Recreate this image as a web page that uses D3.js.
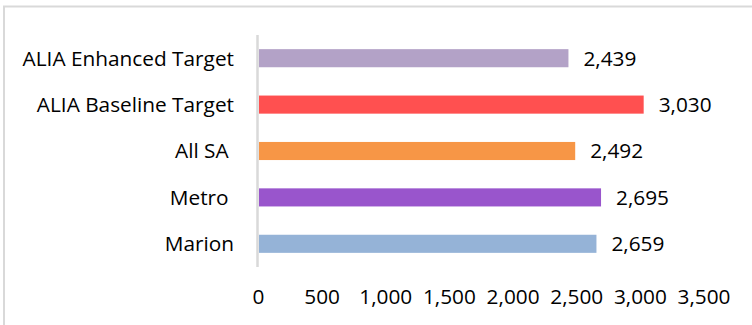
<!DOCTYPE html>
<html>
<head>
<meta charset="utf-8">
<script src="https://cdn.jsdelivr.net/npm/d3@7"></script>
<style>
  html, body { margin: 0; padding: 0; background: #fff; }
  svg text { font-family: "Open Sans", Lato, sans-serif; fill: #000; }
</style>
</head>
<body>
<svg id="chart"></svg>
<script>
// Data kategori dan nilai
const categories = ["ALIA Enhanced Target", "ALIA Baseline Target", "All SA ", "Metro ", "Marion"];
const values = [2439, 3030, 2492, 2695, 2659];
const barColors = ["#B3A2C7", "#FF5050", "#F79646", "#9955CC", "#95B3D7"];
const xTicks = [0, 500, 1000, 1500, 2000, 2500, 3000, 3500];

const svgWidth = 752;
const svgHeight = 325;
const plot = { left: 258, right: 703.5, top: 35, bottom: 267 };
const fontSize = "20.8px";

const svg = d3.select("#chart")
  .attr("width", svgWidth)
  .attr("height", svgHeight);

// Bingkai (hanya kiri dan atas terlihat)
svg.append("path")
  .attr("d", `M4,${svgHeight} V6.5 H${svgWidth}`)
  .attr("fill", "none")
  .attr("stroke", "#D9D9D9")
  .attr("stroke-width", 2);

const data = categories.map((c, i) => ({ cat: c, value: values[i], color: barColors[i] }));

// Skala
const x = d3.scaleLinear()
  .domain([0, 3500])
  .range([plot.left, plot.right]);

const y = d3.scaleBand()
  .domain(categories)
  .range([plot.top, plot.bottom])
  .paddingInner(0.61)
  .paddingOuter(0.305);

// Batang
svg.selectAll("rect.bar")
  .data(data)
  .enter().append("rect")
  .attr("class", "bar")
  .attr("x", x(0) + 1)
  .attr("y", d => y(d.cat))
  .attr("width", d => x(d.value) - x(0) - 1)
  .attr("height", y.bandwidth())
  .attr("fill", d => d.color);

// Garis sumbu kategori
svg.append("line")
  .attr("x1", plot.left - 0.5).attr("x2", plot.left - 0.5)
  .attr("y1", plot.top).attr("y2", plot.bottom)
  .attr("stroke", "#D9D9D9")
  .attr("stroke-width", 2.5);

// Label kategori
svg.selectAll("text.cat")
  .data(data)
  .enter().append("text")
  .attr("class", "cat")
  .attr("x", 234)
  .attr("y", d => y(d.cat) + y.bandwidth() / 2)
  .attr("dy", "0.36em")
  .attr("text-anchor", "end")
  .style("white-space", "pre")
  .style("font-size", fontSize)
  .text(d => d.cat);

// Label nilai
const fmt = d3.format(",");
svg.selectAll("text.val")
  .data(data)
  .enter().append("text")
  .attr("class", "val")
  .attr("x", d => x(d.value) + 15)
  .attr("y", d => y(d.cat) + y.bandwidth() / 2)
  .attr("dy", "0.36em")
  .style("font-size", fontSize)
  .text(d => fmt(d.value));

// Sumbu X (tanpa garis)
const xAxis = svg.append("g")
  .attr("transform", `translate(0,${plot.bottom})`)
  .call(d3.axisBottom(x).tickValues(xTicks).tickFormat(fmt).tickSize(0).tickPadding(0));
xAxis.select(".domain").remove();
xAxis.selectAll("text")
  .attr("y", 37)
  .attr("dy", 0)
  .style("font-size", fontSize)
  .style("font-family", "'Open Sans', Lato, sans-serif")
  .attr("fill", "#000");
</script>
</body>
</html>
